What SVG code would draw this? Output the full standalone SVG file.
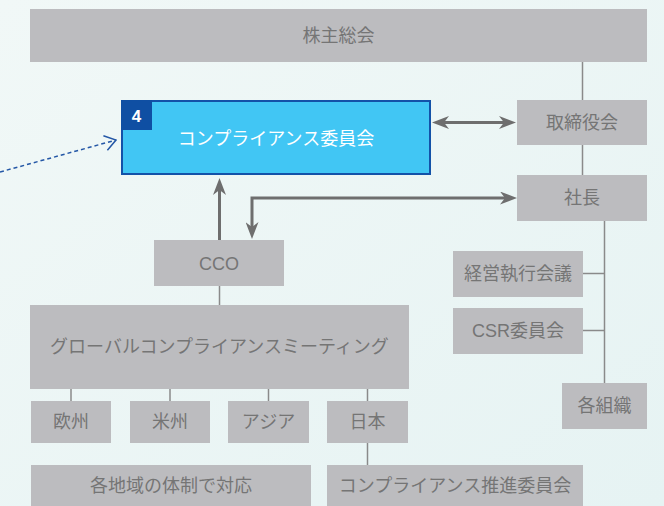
<svg xmlns="http://www.w3.org/2000/svg" width="664" height="506" viewBox="0 0 664 506">
<defs>
<linearGradient id="bg" x1="0" y1="0" x2="1" y2="1">
<stop offset="0" stop-color="#f1f8f7"/>
<stop offset="1" stop-color="#e6f3f3"/>
</linearGradient>
<marker id="ah" viewBox="0 0 17 13" refX="10" refY="6.5" markerWidth="17" markerHeight="13" markerUnits="userSpaceOnUse" orient="auto-start-reverse">
<path d="M0,0 L17,6.5 L0,13 L5,6.5 Z" fill="#6e6e6e"/>
</marker>
<marker id="ch" viewBox="0 0 13 17" refX="12" refY="8.5" markerWidth="13" markerHeight="17" markerUnits="userSpaceOnUse" orient="auto">
<path d="M1,1 L12,8.5 L1,16" fill="none" stroke="#2457a6" stroke-width="1.5"/>
</marker>
<style>
.box{fill:#bcbcbf}
.lbl{font-family:"Liberation Sans","Noto Sans CJK JP",sans-serif;font-size:18px;fill:#757575;text-anchor:middle}
.ln{stroke:#8a8a8a;stroke-width:1.5;fill:none}
.ar{stroke:#6e6e6e;stroke-width:3;fill:none}
</style>
</defs>
<rect x="0" y="0" width="664" height="506" fill="url(#bg)"/>

<g id="connectors">
<path class="ln" d="M582.5,62 V100 M582.5,145 V175"/>
<path class="ln" d="M604.5,221 V384 M583,273.5 H604.5 M583,330.5 H604.5"/>
<path class="ln" d="M219.5,286 V305"/>
<path class="ln" d="M71,389 V401 M170,389 V401 M268.5,389 V401 M367.5,389 V401 M367.5,443 V465"/>
<path class="ar" d="M439,122.5 H509" marker-start="url(#ah)" marker-end="url(#ah)"/>
<path class="ar" d="M219.5,240 V185" marker-end="url(#ah)"/>
<path class="ar" d="M252,232 V198 H510" marker-start="url(#ah)" marker-end="url(#ah)"/>
<path d="M0,172 L116,140" stroke="#2457a6" stroke-width="1.5" stroke-dasharray="4 3" fill="none" marker-end="url(#ch)"/>
</g>

<g id="shareholders">
<rect class="box" x="30" y="9" width="617" height="53"/>
<text class="lbl" x="338.5" y="42">株主総会</text>
</g>
<g id="board">
<rect class="box" x="517" y="100" width="130" height="45"/>
<text class="lbl" x="582" y="128.5">取締役会</text>
</g>
<g id="president">
<rect class="box" x="517" y="175" width="130" height="46"/>
<text class="lbl" x="582" y="204">社長</text>
</g>
<g id="compliance-committee">
<rect x="122" y="101" width="308" height="73" fill="#41c6f4" stroke="#1352a8" stroke-width="2"/>
<rect x="121" y="100" width="31" height="30" fill="#0f4fa3"/>
<text x="136.5" y="122" font-family="Liberation Sans, sans-serif" font-size="17" font-weight="bold" fill="#ffffff" text-anchor="middle">4</text>
<text x="276" y="145" font-family="Liberation Sans, Noto Sans CJK JP, sans-serif" font-size="18" fill="#ffffff" text-anchor="middle">コンプライアンス委員会</text>
</g>
<g id="cco">
<rect class="box" x="154" y="240" width="130" height="46"/>
<text class="lbl" x="219" y="269.5">CCO</text>
</g>
<g id="global-meeting">
<rect class="box" x="30" y="305" width="379" height="84"/>
<text class="lbl" x="219.5" y="353" font-size="17.5">グローバルコンプライアンスミーティング</text>
</g>
<g id="exec-meeting">
<rect class="box" x="453" y="251" width="130" height="46"/>
<text class="lbl" x="518" y="280">経営執行会議</text>
</g>
<g id="csr">
<rect class="box" x="453" y="308" width="130" height="46"/>
<text class="lbl" x="518" y="337">CSR委員会</text>
</g>
<g id="organizations">
<rect class="box" x="562" y="383" width="85" height="46"/>
<text class="lbl" x="604.5" y="412">各組織</text>
</g>
<g id="europe">
<rect class="box" x="31" y="401" width="80" height="42"/>
<text class="lbl" x="71" y="428">欧州</text>
</g>
<g id="americas">
<rect class="box" x="130" y="401" width="80" height="42"/>
<text class="lbl" x="170" y="428">米州</text>
</g>
<g id="asia">
<rect class="box" x="228" y="401" width="81" height="42"/>
<text class="lbl" x="268.5" y="428">アジア</text>
</g>
<g id="japan">
<rect class="box" x="327" y="401" width="81" height="42"/>
<text class="lbl" x="367.5" y="428">日本</text>
</g>
<g id="regional">
<rect class="box" x="31" y="465" width="280" height="42"/>
<text class="lbl" x="171" y="492">各地域の体制で対応</text>
</g>
<g id="promotion-committee">
<rect class="box" x="327" y="465" width="256" height="42"/>
<text class="lbl" x="455" y="492">コンプライアンス推進委員会</text>
</g>
</svg>
